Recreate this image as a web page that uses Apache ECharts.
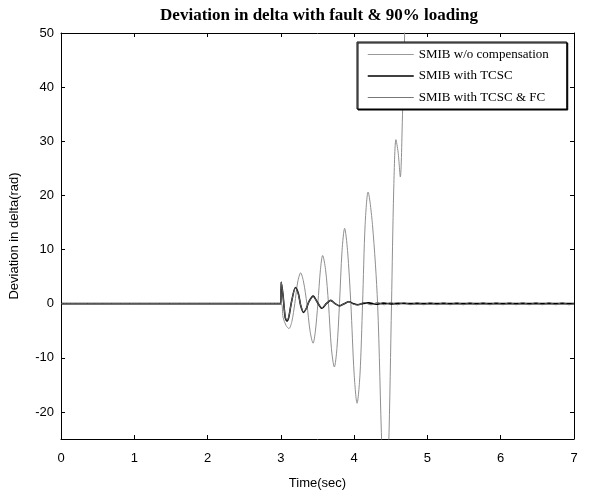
<!DOCTYPE html>
<html>
<head>
<meta charset="utf-8">
<script src="https://cdn.jsdelivr.net/npm/echarts@6/dist/echarts.min.js"></script>
<style>html,body{margin:0;padding:0;background:#fff;}#c{width:616px;height:495px;}</style>
</head>
<body>
<div id="c"></div>
<script>
// ---- data ----
const seriesNames = ['SMIB w/o compensation', 'SMIB with TCSC', 'SMIB with TCSC & FC'];
const xTicks = [0, 1, 2, 3, 4, 5, 6, 7];
const yTicks = [-20, -10, 0, 10, 20, 30, 40, 50];

// SMIB w/o compensation
const tNone = [0, 3.0, 3.03, 3.07, 3.11, 3.15, 3.19, 3.23, 3.27, 3.31, 3.355, 3.40, 3.44, 3.47, 3.505, 3.54, 3.57, 3.61, 3.65, 3.69, 3.73, 3.765, 3.80, 3.835, 3.87, 3.91, 3.955, 4.00, 4.04, 4.08, 4.115, 4.15, 4.19, 4.25, 4.32, 4.38, 4.43, 4.47, 4.51, 4.54, 4.57, 4.60, 4.63, 4.66, 4.70, 4.75, 4.80];
const vNone = [0, 0, -2.5, -4.0, -4.6, -3.3, 0, 4.0, 5.7, 4.0, 0, -5.2, -7.3, -5.2, 0, 6.3, 8.9, 6.3, 0, -8.3, -11.7, -8.3, 0, 9.8, 13.9, 9.8, 0, -13.0, -18.4, -13.0, 0, 14.6, 20.6, 14.6, 0, -27, -38, -27, 0, 21, 30.3, 28, 23.4, 35, 56, 90, 130];

// SMIB with TCSC
const tTcsc = [0, 3.0, 3.005, 3.03, 3.06, 3.085, 3.11, 3.145, 3.20, 3.24, 3.27, 3.31, 3.35, 3.38, 3.44, 3.50, 3.56, 3.62, 3.68, 3.74, 3.80, 3.865, 3.93, 3.99, 4.05, 4.12, 4.20, 4.30, 4.40, 4.50, 4.60, 4.75, 5.0, 7.0];
const vTcsc = [0, 0, 4.0, 1.5, -2.6, -3.2, -2.4, 0.3, 3.0, 1.8, -0.3, -1.6, -0.8, 0.3, 1.4, 0.2, -0.85, 0, 0.6, 0, -0.4, 0, 0.35, 0, -0.2, 0.05, 0.15, -0.1, 0.1, -0.05, 0.05, 0, 0, 0];

// SMIB with TCSC & FC
const tFc = [0, 3.0, 3.005, 3.03, 3.06, 3.085, 3.11, 3.145, 3.20, 3.24, 3.27, 3.31, 3.35, 3.38, 3.44, 3.50, 3.56, 3.62, 3.68, 3.74, 3.80, 3.865, 3.93, 3.99, 4.05, 4.14, 4.23, 4.32, 4.41, 4.50, 4.59, 4.68, 4.77, 4.86, 4.95, 5.04, 5.13, 5.22, 5.31, 5.40, 5.49, 5.58, 5.67, 5.76, 5.85, 5.94, 6.03, 6.12, 6.21, 6.30, 6.39, 6.48, 6.57, 6.66, 6.75, 6.84, 6.93, 7.0];
const vFc = [0, 0, 3.9, 1.5, -2.5, -3.1, -2.3, 0.3, 2.9, 1.7, -0.3, -1.5, -0.8, 0.3, 1.3, 0.2, -0.8, 0, 0.6, 0, -0.4, 0, 0.35, -0.1, -0.25, 0.2, -0.22, 0.22, -0.2, 0.22, -0.2, 0.22, -0.2, 0.22, -0.2, 0.22, -0.2, 0.22, -0.2, 0.22, -0.2, 0.22, -0.2, 0.22, -0.2, 0.22, -0.2, 0.22, -0.2, 0.22, -0.2, 0.22, -0.2, 0.22, -0.2, 0.22, -0.2, 0];

const pairs = (t, v) => t.map((x, i) => [x, v[i]]);

const chart = echarts.init(document.getElementById('c'), null, {renderer: 'canvas'});
const sansFont = 'Liberation Sans';
const serifFont = 'Liberation Serif';
const axisLine = {show: true, onZero: false, lineStyle: {color: '#000', width: 1}};
const tickStyle = {show: true, inside: true, length: 4, lineStyle: {color: '#000', width: 1}};

chart.setOption({
  animation: false,
  backgroundColor: '#fff',
  title: {
    text: 'Deviation in delta with fault & 90% loading',
    left: 314, top: 2, textAlign: 'center',
    textStyle: {fontFamily: serifFont, fontWeight: 'bold', fontSize: 17, color: '#000'}
  },
  grid: {left: 54, right: 42, top: 33, bottom: 44, containLabel: false},
  legend: {
    orient: 'vertical',
    left: 357, top: 42,
    padding: [6, 18, 5, 10],
    itemWidth: 46, itemHeight: 12, itemGap: 8.5,
    backgroundColor: '#fff',
    borderColor: '#000', borderWidth: 1,
    shadowColor: '#000', shadowBlur: 0, shadowOffsetX: 1, shadowOffsetY: 1,
    itemStyle: {opacity: 0},
    textStyle: {fontFamily: serifFont, fontSize: 13, color: '#000'},
    data: [
      {name: seriesNames[0], lineStyle: {color: '#9a9a9a', width: 1}},
      {name: seriesNames[1], lineStyle: {color: '#000', width: 1.5}},
      {name: seriesNames[2], lineStyle: {color: '#777', width: 1}}
    ]
  },
  xAxis: [{
    type: 'value', min: xTicks[0], max: xTicks[xTicks.length - 1], interval: 1,
    name: 'Time(sec)', nameLocation: 'middle', nameGap: 38,
    nameTextStyle: {fontFamily: sansFont, fontSize: 13, color: '#000'},
    axisLine: axisLine, axisTick: tickStyle,
    axisLabel: {fontFamily: sansFont, fontSize: 13, color: '#000', margin: 13},
    splitLine: {show: false}
  }, {
    type: 'value', position: 'top', min: xTicks[0], max: xTicks[xTicks.length - 1], interval: 1,
    axisLine: axisLine, axisTick: tickStyle, axisLabel: {show: false}, splitLine: {show: false}
  }],
  yAxis: [{
    type: 'value', min: -25, max: 50,
    name: 'Deviation in delta(rad)', nameLocation: 'middle', nameGap: 40,
    nameTextStyle: {fontFamily: sansFont, fontSize: 13, color: '#000'},
    axisLine: axisLine,
    axisTick: Object.assign({customValues: yTicks}, tickStyle),
    axisLabel: {customValues: yTicks, fontFamily: sansFont, fontSize: 13, color: '#000', margin: 7},
    splitLine: {show: false}
  }, {
    type: 'value', position: 'right', min: -25, max: 50,
    axisLine: axisLine,
    axisTick: Object.assign({customValues: yTicks}, tickStyle),
    axisLabel: {show: false}, splitLine: {show: false}
  }],
  series: [{
    name: seriesNames[0], type: 'line', data: pairs(tNone, vNone),
    symbol: 'none', smooth: 0.3, clip: true,
    lineStyle: {color: '#8f8f8f', width: 1}, itemStyle: {color: '#8f8f8f'}, z: 2
  }, {
    name: seriesNames[1], type: 'line', data: pairs(tTcsc, vTcsc),
    symbol: 'none', smooth: 0.3, clip: true,
    lineStyle: {color: '#000', width: 1.6}, itemStyle: {color: '#000'}, z: 3
  }, {
    name: seriesNames[2], type: 'line', data: pairs(tFc, vFc),
    symbol: 'none', smooth: 0.3, clip: true,
    lineStyle: {color: '#6a6a6a', width: 1}, itemStyle: {color: '#6a6a6a'}, z: 4
  }]
});
</script>
</body>
</html>
